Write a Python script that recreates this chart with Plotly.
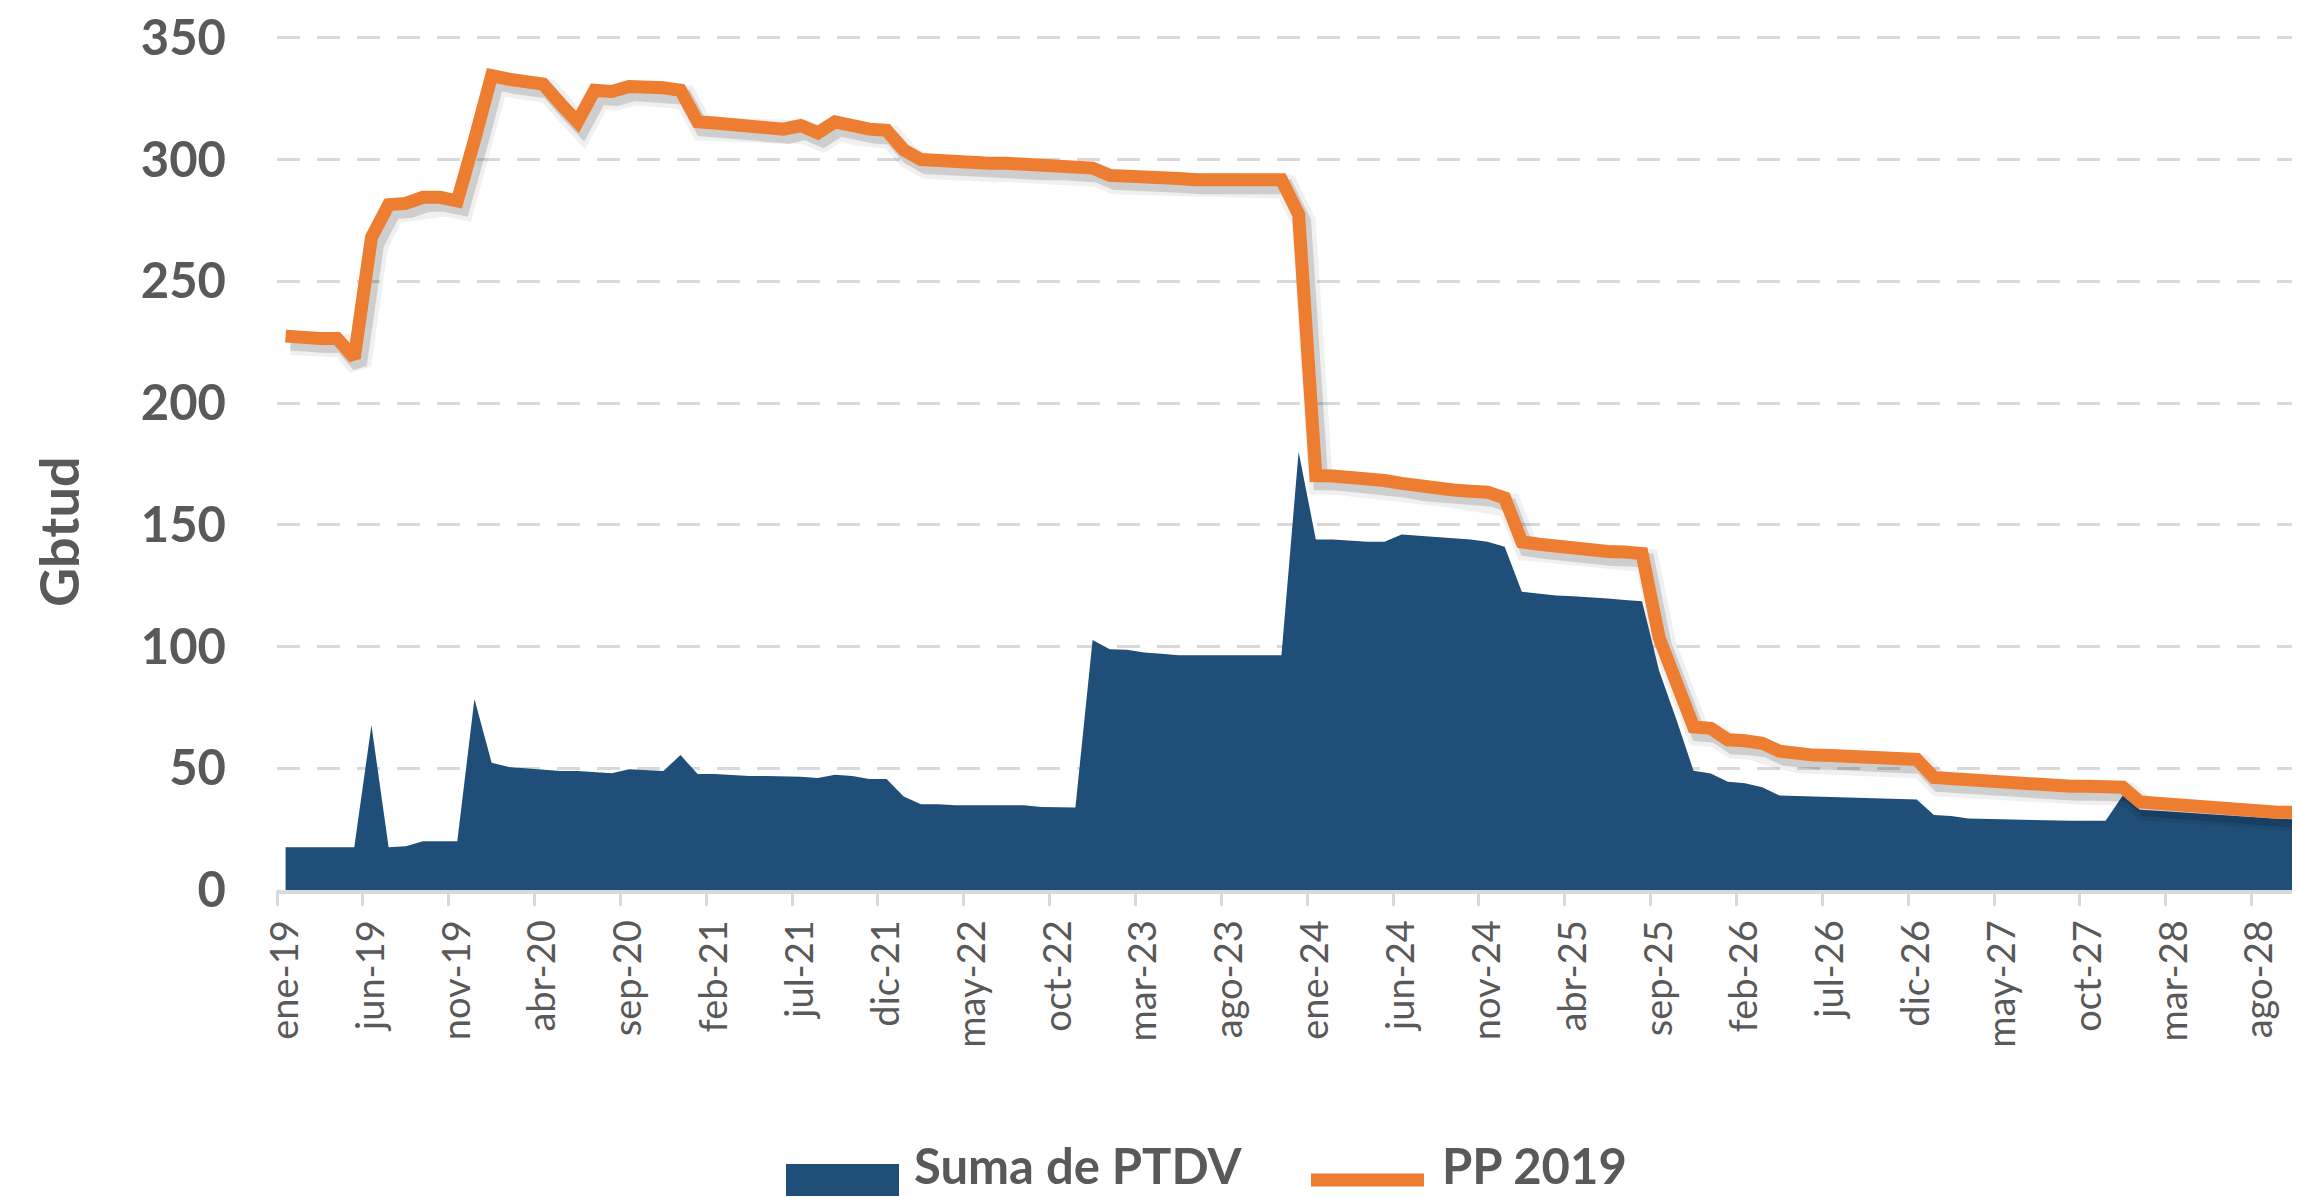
import numpy as np
import plotly.graph_objects as go

# monthly values, ene-19 .. nov-28 (chart is cut at the right edge)
PTDV = [
    17.6, 17.6, 17.6, 17.6, 17.6, 67.7, 17.6, 18.0, 20.0, 20.0,
    20.0, 78.5, 52.3, 50.5, 50.0, 49.2, 48.9, 48.9, 48.3, 48.0,
    49.6, 49.2, 48.9, 55.4, 47.6, 47.6, 47.2, 46.8, 46.8, 46.8,
    46.5, 46.0, 47.3, 46.8, 45.6, 45.6, 38.4, 35.2, 35.2, 34.8,
    34.8, 34.8, 34.8, 34.8, 34.1, 33.9, 33.9, 102.7, 98.9, 98.7,
    97.6, 97.0, 96.4, 96.4, 96.4, 96.4, 96.4, 96.4, 96.4, 180.0,
    144.0, 144.0, 143.5, 143.0, 143.0, 146.0, 145.5, 145.0, 144.5, 144.0,
    143.0, 141.0, 122.5, 121.7, 121.0, 120.7, 120.3, 119.7, 119.1, 118.6,
    90.0, 70.0, 49.0, 47.8, 44.5, 43.8, 42.2, 38.8, 38.6, 38.4,
    38.2, 37.9, 37.6, 37.5, 37.5, 37.2, 30.8, 30.4, 29.4, 29.2,
    29.2, 29.0, 28.8, 28.5, 28.4, 28.4, 28.4, 38.8, 33.0, 32.5,
    32.0, 31.5, 31.0, 30.5, 30.0, 29.6, 29.3, 29.0, 29.0,
]
PP_2019 = [
    227.5, 226.5, 226.5, 226.5, 218.5, 268.0, 281.5, 282.0, 284.5, 284.5,
    283.0, 308.0, 334.5, 333.0, 332.5, 331.0, 323.0, 315.5, 328.5, 328.0,
    330.0, 330.0, 329.5, 328.5, 315.5, 315.0, 314.5, 314.0, 313.5, 312.5,
    314.0, 311.0, 315.5, 313.5, 312.5, 312.0, 304.0, 300.0, 299.5, 298.5,
    298.5, 298.5, 298.5, 298.0, 297.5, 297.5, 297.5, 296.5, 293.5, 293.5,
    293.0, 292.8, 292.2, 291.7, 291.7, 291.7, 291.7, 291.7, 291.7, 277.5,
    170.2, 170.0, 169.6, 168.8, 168.2, 167.0, 165.7, 165.3, 164.3, 163.8,
    163.4, 161.0, 143.0, 142.0, 141.0, 140.0, 139.5, 139.0, 138.8, 138.2,
    103.5, 84.5, 67.0, 66.4, 61.7, 61.3, 60.3, 57.0, 55.6, 55.4,
    55.2, 54.8, 54.7, 54.3, 54.0, 53.6, 46.2, 45.6, 44.9, 44.5,
    44.1, 43.8, 43.5, 43.1, 42.6, 42.6, 42.6, 42.2, 36.2, 35.5,
    35.1, 34.7, 34.1, 33.5, 32.5, 32.1, 31.9, 31.9, 31.9,
]
TICK_LABELS = [
    "ene-19", "jun-19", "nov-19", "abr-20", "sep-20", "feb-21", "jul-21", "dic-21",
    "may-22", "oct-22", "mar-23", "ago-23", "ene-24", "jun-24", "nov-24", "abr-25",
    "sep-25", "feb-26", "jul-26", "dic-26", "may-27", "oct-27", "mar-28", "ago-28",
]
SERIES_NAMES = ["Suma de PTDV", "PP 2019"]

BLUE = "#1F4E79"
ORANGE = "#ED7D31"
TXT = "#595959"
GRID = "#D9D9D9"
FONT = "Lato"

# page body has an 8px margin, so the figure sits 8px right/down on screen
OFF = 8
W, H = 2300, 1197
Y_RANGE = [0, 352]          # a little headroom so the 350 gridline shows
UNIT_PX = 852 / 350
PLOT_LEFT, PLOT_BOTTOM = 277, 890  # on-screen px
PLOT_TOP = round(PLOT_BOTTOM - Y_RANGE[1] * UNIT_PX)
L, T, R = PLOT_LEFT - OFF, PLOT_TOP - OFF, OFF
B = H - (PLOT_BOTTOM - OFF)
PW, PH = W - L - R, H - T - B
MONTH_PX = 17.17
X_RANGE = [-0.5, -0.5 + PW / MONTH_PX]

x = np.arange(len(PTDV))
label_pos = x[::5][: len(TICK_LABELS)]
bound_pos = label_pos - 0.5

# shadow of the orange line, offset a few px right / down
sdx = 5 / MONTH_PX
sdy = 7 * (Y_RANGE[1] - Y_RANGE[0]) / PH


def px(v):
    return (v - PLOT_LEFT) / PW


def py(v):
    return (PLOT_BOTTOM - v) / PH


fig = go.Figure()
fig.add_trace(
    go.Scatter(
        x=x, y=PTDV, mode="lines", fill="tozeroy", fillcolor=BLUE,
        line=dict(color=BLUE, width=0), name=SERIES_NAMES[0],
        xaxis="x", yaxis="y",
    )
)
for w, a in [(24, 0.06), (15, 0.14)]:
    fig.add_trace(
        go.Scatter(
            x=x, y=PP_2019, mode="lines",
            line=dict(color=f"rgba(0,0,0,{a})", width=w),
            hoverinfo="skip", showlegend=False, xaxis="x2", yaxis="y2",
        )
    )
fig.add_trace(
    go.Scatter(
        x=x, y=PP_2019, mode="lines", line=dict(color=ORANGE, width=13),
        name=SERIES_NAMES[1], xaxis="x3", yaxis="y",
    )
)

fig.update_layout(
    width=W, height=H,
    margin=dict(l=L, r=R, t=T, b=B),
    paper_bgcolor="white", plot_bgcolor="white",
    showlegend=False,
    font=dict(family=FONT, color=TXT),
    xaxis=dict(
        range=X_RANGE, tickmode="array", tickvals=label_pos, ticktext=TICK_LABELS,
        tickangle=-90, tickfont=dict(size=38, color=TXT), ticks="",
        ticklabelstandoff=11, showgrid=False, zeroline=False,
        showline=True, linecolor=GRID, linewidth=4, automargin=False,
    ),
    xaxis2=dict(
        range=[X_RANGE[0] - sdx, X_RANGE[1] - sdx], overlaying="x", visible=False,
    ),
    xaxis3=dict(
        range=X_RANGE, overlaying="x", anchor="y", side="bottom",
        tickmode="array", tickvals=bound_pos, ticks="outside", ticklen=15,
        tickwidth=3, tickcolor=GRID, showticklabels=False, showgrid=False,
        zeroline=False, showline=False,
    ),
    yaxis=dict(
        range=Y_RANGE, tickmode="linear", tick0=0, dtick=50,
        tickfont=dict(size=49, color=TXT, weight="bold"), ticks="",
        ticklabelstandoff=50, ticklabeloverflow="allow",
        showgrid=True, gridcolor=GRID, gridwidth=3,
        griddash="23px,17px", zeroline=False, automargin=False,
    ),
    yaxis2=dict(
        range=[Y_RANGE[0] + sdy, Y_RANGE[1] + sdy], overlaying="y", visible=False,
    ),
)

fig.add_annotation(
    text="Gbtud", textangle=-90, xref="paper", yref="paper",
    x=px(58), y=py(532), xanchor="center", yanchor="middle", showarrow=False,
    font=dict(size=54, color=TXT, weight="bold"),
)

# legend drawn below the axis
fig.add_shape(
    type="rect", xref="paper", yref="paper",
    x0=px(786), x1=px(899), y0=py(1196), y1=py(1164),
    fillcolor=BLUE, line=dict(width=0),
)
fig.add_shape(
    type="line", xref="paper", yref="paper",
    x0=px(1311), x1=px(1424), y0=py(1180), y1=py(1180),
    line=dict(color=ORANGE, width=13),
)
for name, left in zip(SERIES_NAMES, [912, 1440]):
    fig.add_annotation(
        text=name, xref="paper", yref="paper", x=px(left), y=py(1196),
        xanchor="left", yanchor="bottom", showarrow=False,
        font=dict(size=49, color=TXT, weight="bold"),
    )

fig.write_html("out.html")
